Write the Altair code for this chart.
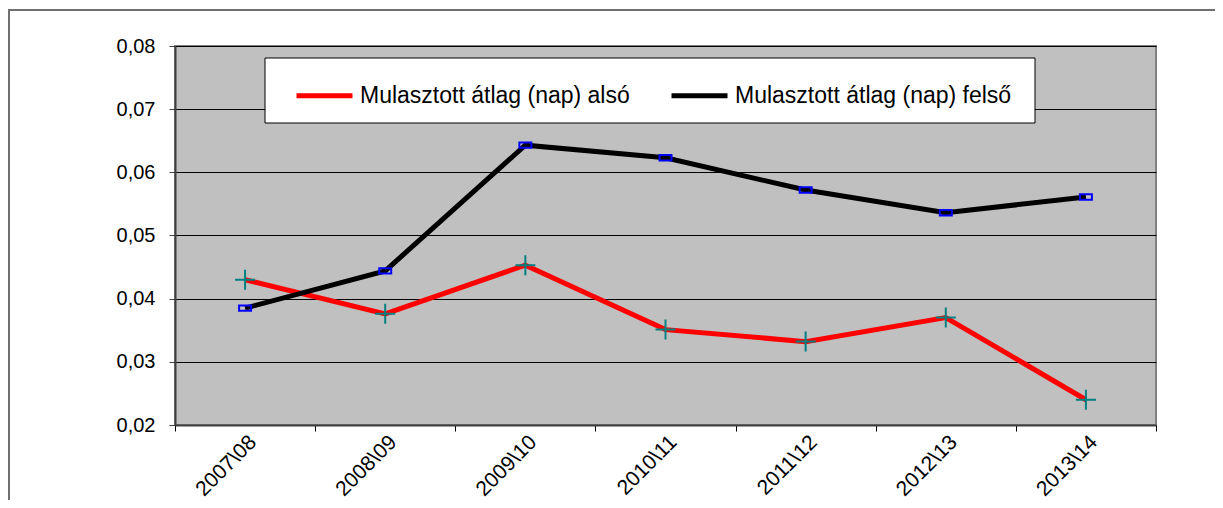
import altair as alt
import pandas as pd

years = ["2007\\08", "2008\\09", "2009\\10", "2010\\11", "2011\\12", "2012\\13", "2013\\14"]
also = [0.0430, 0.0376, 0.0453, 0.0351, 0.0332, 0.0370, 0.0240]
felso = [0.0385, 0.0444, 0.0643, 0.0623, 0.0572, 0.0536, 0.0561]
s_also = "Mulasztott átlag (nap) alsó"
s_felso = "Mulasztott átlag (nap) felső"
y_ticks = [0.02, 0.03, 0.04, 0.05, 0.06, 0.07, 0.08]

df = pd.DataFrame(
    {"ev": years * 2,
     "ertek": also + felso,
     "sorozat": [s_also] * len(years) + [s_felso] * len(years)}
)

FONT = "Liberation Sans"

x_enc = alt.X("ev:N", sort=years, title=None,
              scale=alt.Scale(type="band", paddingInner=0, paddingOuter=0),
              axis=alt.Axis(labelAngle=-45, labelFontSize=21, labelFont=FONT,
                            labelColor="black", tickBand="extent", tickSize=6,
                            tickColor="black", domainColor="#404040",
                            domainWidth=2, labelPadding=0, grid=False))
y_enc = alt.Y("ertek:Q", title=None,
              scale=alt.Scale(domain=[0.02, 0.08], nice=False, zero=False),
              axis=alt.Axis(values=y_ticks,
                            labelExpr="replace(format(datum.value, '.2f'), '.', ',')",
                            labelFontSize=20, labelFont=FONT, labelColor="black",
                            tickSize=6, tickColor="#404040", domainColor="#404040",
                            domainWidth=2, labelPadding=14, grid=True,
                            gridColor="black", gridWidth=1))

base = alt.Chart(df)

# legend box (decoration)
legend_box = alt.Chart(pd.DataFrame({"k": [0]})).mark_rect(
    fill="white", stroke="black", strokeWidth=1
).encode(x=alt.value(90), x2=alt.value(860), y=alt.value(12), y2=alt.value(77))

lines = base.mark_line(strokeWidth=5).encode(
    x=x_enc, y=y_enc,
    color=alt.Color("sorozat:N",
                    scale=alt.Scale(domain=[s_also, s_felso], range=["#FF0000", "#000000"]),
                    legend=alt.Legend(title=None, orient="none", legendX=119, legendY=19,
                                      direction="horizontal", padding=0,
                                      symbolType="stroke", symbolSize=3136,
                                      symbolStrokeWidth=5, labelFontSize=23,
                                      labelFont=FONT, labelColor="black",
                                      labelOffset=5, columnPadding=31,
                                      labelLimit=400)),
)

cross = base.transform_filter(alt.datum.sorozat == s_also).mark_point(
    shape="M-1,0L1,0M0,-1L0,1", size=400, stroke="#008080", strokeWidth=2,
    filled=False, opacity=1
).encode(x=x_enc, y=y_enc)

rects = base.transform_filter(alt.datum.sorozat == s_felso).mark_point(
    shape="M-1,-0.45L1,-0.45L1,0.45L-1,0.45Z", size=144, stroke="#0000FF",
    strokeWidth=2, filled=False, opacity=1
).encode(x=x_enc, y=y_enc)

frame = alt.Chart(pd.DataFrame({"k": [0]})).mark_rect(
    fill=None, stroke="#707070", strokeWidth=2, clip=False
).encode(x=alt.value(-166), x2=alt.value(1048), y=alt.value(-36), y2=alt.value(480))

chart = alt.layer(frame, lines, cross, rects, legend_box).properties(
    width=981, height=379,
    autosize=alt.AutoSizeParams(type="none"),
    padding={"left": 167, "top": 38, "right": 59, "bottom": 75},
    background="white",
).configure_view(fill="#C0C0C0", stroke="#808080", strokeWidth=2)

chart.save("out.html", embed_options={"renderer": "svg", "actions": False})
